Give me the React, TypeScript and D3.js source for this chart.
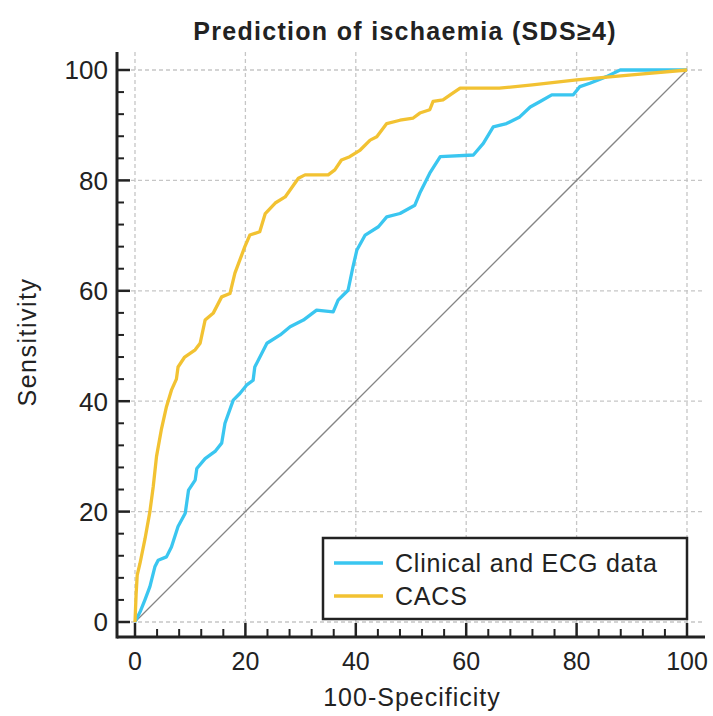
import React from 'react';
import * as d3 from 'd3';

// ROC curves (100-specificity vs sensitivity, %)
const cacsX = [0, 0.2, 0.4, 0.9, 1.8, 2.7, 3.3, 3.9, 4.8, 5.7, 6.6, 7.5, 7.8, 9, 10.9, 11.8, 12.7, 14.2, 15.7, 17.2, 18.1, 19.9, 20.8, 22.6, 23.6, 25.4, 27.2, 29.6, 30.8, 35, 36.2, 37.4, 38.9, 40.8, 42.6, 43.8, 45.6, 48, 50.4, 51.6, 53.4, 54, 55.8, 57.1, 58.9, 60.1, 66, 72, 80, 90, 100];
const cacsY = [0, 5, 8.5, 10.6, 15, 20, 24.5, 30, 35, 39, 42, 44, 46.2, 48, 49.3, 50.5, 54.7, 56, 58.9, 59.5, 63.2, 68, 70.1, 70.7, 74, 75.9, 77, 80.4, 81, 81, 81.9, 83.7, 84.3, 85.5, 87.3, 87.9, 90.3, 90.9, 91.3, 92.2, 92.8, 94.3, 94.6, 95.5, 96.7, 96.7, 96.7, 97.3, 98.2, 99.1, 100];

const clinX = [0, 1, 1.8, 2.7, 3.6, 4.2, 5.7, 6.6, 7.8, 9.1, 9.7, 10.9, 11.2, 12.7, 14.5, 15.7, 16.3, 17.8, 19, 20.2, 21.4, 21.7, 23.9, 26.3, 28.1, 30.5, 32.9, 35.9, 36.8, 38.6, 39.5, 40.2, 41.7, 44.1, 45.6, 48, 50.7, 51.6, 53.4, 55.3, 61.3, 63.1, 64.9, 67.3, 69.7, 71.6, 73.4, 75.5, 79.4, 80.6, 82.4, 85.4, 87.9, 100];
const clinY = [0, 2, 4, 6.4, 10, 11.2, 11.8, 13.6, 17.3, 19.7, 23.9, 25.7, 27.8, 29.6, 30.9, 32.4, 36, 40.2, 41.4, 42.9, 43.8, 46.2, 50.5, 52, 53.5, 54.7, 56.5, 56.2, 58.3, 60.1, 64.4, 67.4, 70.1, 71.6, 73.4, 74, 75.5, 77.7, 81.3, 84.3, 84.6, 86.7, 89.7, 90.3, 91.5, 93.3, 94.3, 95.5, 95.5, 97, 97.6, 98.8, 100, 100];

const majorTicks = [0, 20, 40, 60, 80, 100];
const minorTicks = d3.range(0, 101, 4).filter(v => v % 20 !== 0);
const seriesNames = ['Clinical and ECG data', 'CACS'];
const seriesColors = ['#3ac6f0', '#f2c232'];

export default function App() {
	const width = 713, height = 716;
	const font = '"Liberation Sans", Arial, sans-serif';

	const x = d3.scaleLinear().domain([0, 100]).range([135, 687]);
	const y = d3.scaleLinear().domain([0, 100]).range([622, 70]);

	// frame of the plot area, a little beyond the data range
	const left = 117, right = 702, top = 52, bottom = 637;

	const line = d3.line<number>().curve(d3.curveLinear);
	const clinPath = line(clinX.map((v, i) => [x(v), y(clinY[i])]) as any);
	const cacsPath = line(cacsX.map((v, i) => [x(v), y(cacsY[i])]) as any);

	return (
		<svg width={width} height={height} style={{ position: 'absolute', left: 0, top: 0, background: '#fff' }}>
			<text x={405} y={40} textAnchor="middle" fontFamily={font} fontWeight="bold" fontSize={25} letterSpacing={1.3} fill="#222">
				Prediction of ischaemia (SDS≥4)
			</text>

			{/* grid */}
			{majorTicks.map(t => (
				<g key={'g' + t}>
					<line x1={x(t)} x2={x(t)} y1={top} y2={bottom} stroke="#c6c6c6" strokeWidth={1.3} strokeDasharray="4,3" />
					<line x1={left} x2={right} y1={y(t)} y2={y(t)} stroke="#c6c6c6" strokeWidth={1.3} strokeDasharray="4,3" />
				</g>
			))}

			{/* chance line */}
			<line x1={x(0)} y1={y(0)} x2={x(100)} y2={y(100)} stroke="#858585" strokeWidth={1.3} />

			<path d={clinPath || ''} fill="none" stroke={seriesColors[0]} strokeWidth={3.3} strokeLinejoin="round" />
			<path d={cacsPath || ''} fill="none" stroke={seriesColors[1]} strokeWidth={3.3} strokeLinejoin="round" />

			{/* axes */}
			<line x1={left} x2={left} y1={top} y2={bottom + 1.5} stroke="#222" strokeWidth={3} />
			<line x1={left} x2={right + 3} y1={bottom} y2={bottom} stroke="#222" strokeWidth={3} />
			{majorTicks.map(t => (
				<g key={'t' + t}>
					<line x1={left} x2={left + 13} y1={y(t)} y2={y(t)} stroke="#222" strokeWidth={2.5} />
					<line x1={x(t)} x2={x(t)} y1={bottom} y2={bottom - 14} stroke="#222" strokeWidth={2.5} />
					<text x={108} y={y(t)} dy="0.36em" textAnchor="end" fontFamily={font} fontSize={26} fill="#222">{t}</text>
					<text x={x(t)} y={670} textAnchor="middle" fontFamily={font} fontSize={25} fill="#222">{t}</text>
				</g>
			))}
			{minorTicks.map(t => (
				<g key={'m' + t}>
					<line x1={left} x2={left + 7} y1={y(t)} y2={y(t)} stroke="#222" strokeWidth={2} />
					<line x1={x(t)} x2={x(t)} y1={bottom} y2={bottom - 8} stroke="#222" strokeWidth={2} />
				</g>
			))}

			<text x={412} y={706} textAnchor="middle" fontFamily={font} fontSize={25} letterSpacing={1} fill="#222">100-Specificity</text>
			<text transform="translate(36,342) rotate(-90)" textAnchor="middle" fontFamily={font} fontSize={25} letterSpacing={1.5} fill="#222">Sensitivity</text>

			{/* legend */}
			<rect x={323} y={538} width={364} height={81} fill="#fff" stroke="#222" strokeWidth={2.5} />
			{seriesNames.map((name, i) => (
				<g key={name} transform={`translate(0,${563 + i * 33})`}>
					<line x1={334} x2={383} stroke={seriesColors[i]} strokeWidth={3.3} />
					<text x={395} dy="0.36em" fontFamily={font} fontSize={25} letterSpacing={0.8} fill="#222">{name}</text>
				</g>
			))}
		</svg>
	);
}
